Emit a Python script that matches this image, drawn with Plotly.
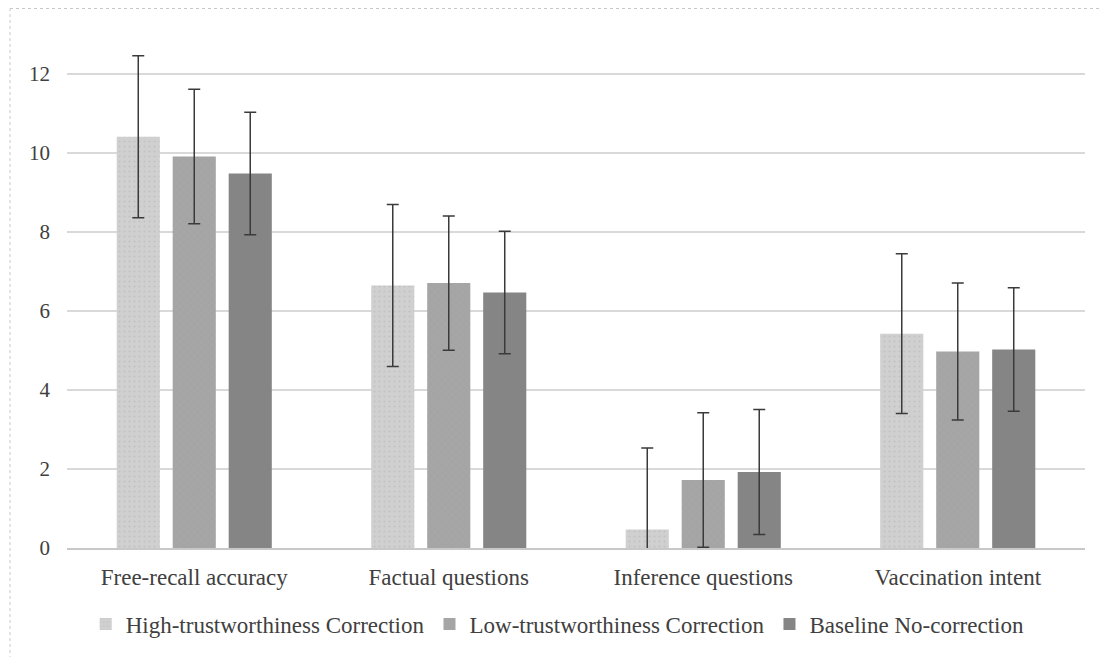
import plotly.graph_objects as go

categories = ["Free-recall accuracy", "Factual questions", "Inference questions", "Vaccination intent"]
series_names = ["High-trustworthiness Correction", "Low-trustworthiness Correction", "Baseline No-correction"]
high_vals = [10.40, 6.64, 0.47, 5.42]
high_err = [2.05, 2.05, 2.06, 2.02]
low_vals = [9.90, 6.70, 1.72, 4.97]
low_err = [1.70, 1.70, 1.70, 1.73]
base_vals = [9.47, 6.46, 1.92, 5.02]
base_err = [1.55, 1.55, 1.58, 1.56]

colors = ["#d0d0d0", "#a6a6a6", "#858585"]
pattern_fg = ["#b4b4b4", "#969696", "#7c7c7c"]
shapes_pat = [".", "x", ""]

fig = go.Figure()
for name, vals, errs, col, fg, pat in zip(series_names, [high_vals, low_vals, base_vals],
                                         [high_err, low_err, base_err], colors, pattern_fg, shapes_pat):
    fig.add_trace(go.Bar(
        x=categories, y=vals, name=name,
        marker=dict(color=col, line=dict(color=col, width=0),
                    pattern=dict(shape=pat, fgcolor=fg, size=5, solidity=0.15)),
        error_y=dict(type="data", array=errs, visible=True, color="#3a3a3a", thickness=1.5, width=6),
    ))

fig.update_layout(
    width=1107, height=657,
    margin=dict(l=59, r=30, t=26, b=117),
    paper_bgcolor="white", plot_bgcolor="white",
    barmode="group", bargap=0.34, bargroupgap=0.23,
    font=dict(family="Liberation Serif", size=21, color="#404040"),
    showlegend=True,
    legend=dict(orientation="h", x=0.482, xanchor="center", y=-0.148, yanchor="middle",
                font=dict(size=23, color="#404040"), itemwidth=30, tracegroupgap=0),
    xaxis=dict(showgrid=False, showline=True, linecolor="#c8c8c8", linewidth=1.5,
               ticks="", ticklabelstandoff=8, tickfont=dict(size=23, color="#404040"),
               automargin=False),
    yaxis=dict(range=[0, 13], tickvals=[0, 2, 4, 6, 8, 10, 12], showgrid=True,
               gridcolor="#d9d9d9", gridwidth=1.5, zeroline=False, showline=False,
               ticks="", ticklabelstandoff=16, tickfont=dict(size=21, color="#404040"),
               automargin=False),
    shapes=[dict(type="rect", xref="paper", yref="paper",
                 x0=-57/1018, x1=1.2, y0=1 + 25.5/514, y1=-0.3,
                 line=dict(color="#c8c8c8", width=1, dash="dot"), fillcolor="rgba(0,0,0,0)",
                 layer="below")],
)

fig.write_html("out.html")
